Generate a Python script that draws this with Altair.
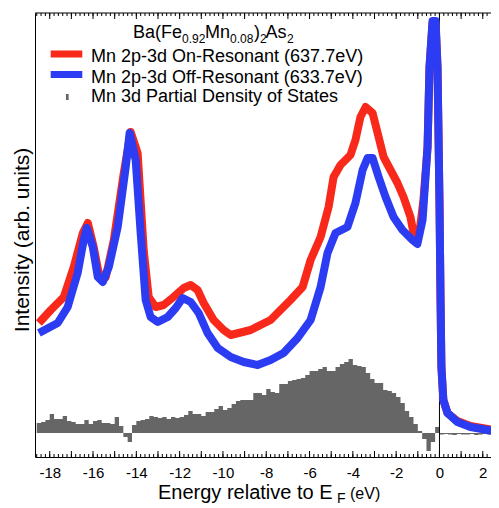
import altair as alt
import numpy as np
import pandas as pd

FONT = "Liberation Sans"
RED = "#f8281a"
BLUE = "#2c3cf2"
GREY = "#666666"

# ---------------- data (Energy relative to E_F in eV, intensity in arb. units) -------------
red_E = [-18.50, -17.95, -17.35, -16.89, -16.47, -16.24, -15.97, -15.74, -15.41, -15.04,
         -14.58, -14.26, -13.94, -13.66, -13.43, -13.11, -12.74, -12.28, -11.81, -11.49,
         -11.17, -10.89, -10.43, -9.97, -9.64, -8.72, -7.80, -6.88, -6.32, -5.95,
         -5.49, -5.12, -4.89, -4.57, -4.11, -3.88, -3.65, -3.41, -3.09, -2.81,
         -2.58, -2.26, -1.94, -1.66, -1.34, -1.20, -1.02, -0.88, -0.74, -0.55,
         -0.46, -0.32, -0.18, -0.09, 0.0, 0.05, 0.09, 0.18, 0.37, 0.83,
         1.43, 2.22, 2.72]
red_I = [134, 147, 160, 190, 224, 234, 210, 184, 180, 217,
         284, 325, 304, 207, 160, 150, 152, 160, 169, 172,
         167, 154, 137, 127, 122, 127, 137, 157, 170, 197,
         220, 250, 280, 292, 302, 317, 340, 350, 344, 320,
         300, 287, 274, 260, 240, 224, 220, 232, 257, 310,
         390, 434, 434, 390, 257, 157, 90, 57, 44, 36,
         31, 28, 26]

blue_E = [-18.50, -17.63, -17.17, -16.71, -16.43, -16.29, -16.01, -15.78, -15.55, -15.27,
          -14.86, -14.49, -14.31, -14.03, -13.80, -13.57, -13.34, -13.01, -12.55, -12.18,
          -11.86, -11.49, -11.12, -10.71, -10.24, -9.64, -9.04, -8.40, -7.80, -7.20,
          -6.55, -5.95, -5.49, -5.17, -4.80, -4.25, -3.88, -3.55, -3.32, -3.09,
          -2.81, -2.49, -2.12, -1.71, -1.25, -1.02, -0.78, -0.55, -0.46, -0.32,
          -0.18, -0.09, 0.0, 0.05, 0.09, 0.18, 0.37, 0.83, 1.43, 2.22,
          2.72]
blue_I = [124, 134, 150, 184, 217, 229, 210, 180, 175, 190,
          230, 290, 324, 297, 224, 157, 140, 135, 140, 149,
          159, 155, 144, 124, 109, 100, 95, 92, 97, 104,
          119, 137, 170, 204, 224, 230, 254, 287, 299, 299,
          280, 260, 240, 227, 217, 213, 237, 310, 390, 436,
          436, 390, 257, 157, 90, 57, 44, 35, 30, 27,
          25]

# Mn 3d partial DOS: 0.2 eV bins starting at -18.6 eV, drawn above a baseline
DOS_BASE = 24
DOS_BIN = 0.2
DOS_START = -18.6
dos_vals = [10, 11, 13, 19, 14, 14, 17, 12, 11, 9,
            9, 13, 9, 12, 13, 10, 10, 9, 16, 7,
            -4, -9, 8, 12, 13, 14, 17, 16, 15, 16,
            14, 16, 15, 16, 18, 22, 19, 19, 17, 21,
            21, 24, 27, 23, 25, 29, 32, 33, 33, 33,
            40, 40, 38, 44, 41, 40, 49, 49, 52, 53,
            54, 55, 58, 62, 62, 64, 66, 62, 62, 66,
            69, 71, 74, 68, 67, 66, 60, 54, 50, 50,
            43, 42, 40, 36, 30, 22, 16, 9, 2, -6,
            -18, -9, 6,
            -1.5, -1, -1.5, -2, -1, -1.5, -1.5, -1, -2, -1.5, -1, -1.5, -1.5, -1]

x_tick_labels = list(range(-18, 3, 2))
E_LIM = [-18.68, 2.38]
I_LIM = [0, 444]

# ---------------- frames ---------------------------------------------------------------
W, H = 456, 444
df_red = pd.DataFrame({"E": red_E, "I": red_I})
df_blue = pd.DataFrame({"E": blue_E, "I": blue_I})
edges = [round(DOS_START + i * DOS_BIN, 2) for i in range(len(dos_vals) + 1)]
tops = [DOS_BASE + v for v in dos_vals]
df_dos = pd.DataFrame({"E": edges, "top": tops + [tops[-1]],
                       "base": [DOS_BASE] * len(edges)})
minor = [round(-18.6 + 0.2 * i, 1) for i in range(105)]
major = list(range(-18, 3))
df_minor = pd.DataFrame({"E": minor})
df_major = pd.DataFrame({"E": major})
one = pd.DataFrame({"a": [0]})

xs = alt.Scale(domain=E_LIM, nice=False, zero=False)
ys = alt.Scale(domain=I_LIM, nice=False, zero=False)

x_axis = alt.Axis(values=x_tick_labels, labelExpr="'' + datum.value", ticks=False,
                  grid=False, domain=True, domainColor="black", domainWidth=1,
                  labelFontSize=15, labelFont=FONT, labelColor="black", labelPadding=8,
                  labelFlush=False, labelOverlap=False, title=None)
y_axis = alt.Axis(ticks=False, labels=False, grid=False, domain=True,
                  domainColor="black", domainWidth=1, title=None)

X = lambda f: alt.X(f, scale=xs, axis=x_axis)
Y = lambda f: alt.Y(f, scale=ys, axis=y_axis)

dos = alt.Chart(df_dos).mark_area(color=GREY, interpolate="step-after", clip=True).encode(
    x=X("E:Q"), y=Y("top:Q"), y2="base:Q")

zero = alt.Chart(one).mark_rule(color="black", strokeWidth=1).encode(
    x=alt.datum(0, scale=xs), y=alt.value(0), y2=alt.value(H))

red = alt.Chart(df_red).mark_line(color=RED, strokeWidth=8, strokeJoin="round", clip=True).encode(
    x=X("E:Q"), y=Y("I:Q"))
blue = alt.Chart(df_blue).mark_line(color=BLUE, strokeWidth=8, strokeJoin="round", clip=True).encode(
    x=X("E:Q"), y=Y("I:Q"))


def ticks(df, length, top):
    if top:
        return alt.Chart(df).mark_rule(color="black", strokeWidth=1).encode(
            x=X("E:Q"), y=alt.value(0), y2=alt.value(length))
    return alt.Chart(df).mark_rule(color="black", strokeWidth=1).encode(
        x=X("E:Q"), y=alt.value(H), y2=alt.value(H - length))


top_line = alt.Chart(one).mark_rule(color="black", strokeWidth=1).encode(
    x=alt.value(0), x2=alt.value(W), y=alt.value(0))


def txt(t, x, y, size, angle=None, align="left", baseline="alphabetic"):
    kw = dict(font=FONT, fontSize=size, color="black", align=align, baseline=baseline)
    if angle is not None:
        kw["angle"] = angle
    return alt.Chart(one).mark_text(**kw).encode(
        x=alt.value(x), y=alt.value(y), text=alt.value(t))


def leg_line(color, y):
    return alt.Chart(one).mark_rule(color=color, strokeWidth=7).encode(
        x=alt.value(15.7), x2=alt.value(47.3), y=alt.value(y))


legend = [
    # compound formula with subscripts
    txt("Ba(Fe", 98, 25, 18), txt("0.92", 147, 29.5, 12),
    txt("Mn", 170, 25, 18), txt("0.08", 195, 29.5, 12),
    txt(")", 219, 25, 18), txt("2", 225, 29.5, 12),
    txt("As", 230.5, 25, 18), txt("2", 252, 29.5, 12),
    leg_line(RED, 41), leg_line(BLUE, 61.5),
    alt.Chart(one).mark_rule(color=GREY, strokeWidth=2.7).encode(
        x=alt.value(32.3), y=alt.value(81), y2=alt.value(87)),
    txt("Mn 2p-3d On-Resonant (637.7eV)", 56, 49, 18),
    txt("Mn 2p-3d Off-Resonant (633.7eV)", 56, 69.7, 18),
    txt("Mn 3d Partial Density of States", 56, 88.7, 18),
]

titles = [
    txt("Energy relative to E", 123, 486, 20),
    txt("F", 302, 490, 14),
    txt("(eV)", 315, 486, 16),
    txt("Intensity (arb. units)", -12, 227, 21, angle=270, align="center", baseline="middle"),
]

chart = alt.layer(
    dos, zero, red, blue,
    ticks(df_minor, 3, True), ticks(df_major, 6, True),
    ticks(df_minor, 3, False), ticks(df_major, 6, False),
    top_line, *legend, *titles,
).properties(
    width=W, height=H,
    padding={"left": 27, "top": 5, "right": 0, "bottom": 51},
    autosize=alt.AutoSizeParams(type="none"),
).configure_view(stroke=None).configure_axis(grid=False)

chart.save("out.html", embed_options={"renderer": "svg", "actions": False})
